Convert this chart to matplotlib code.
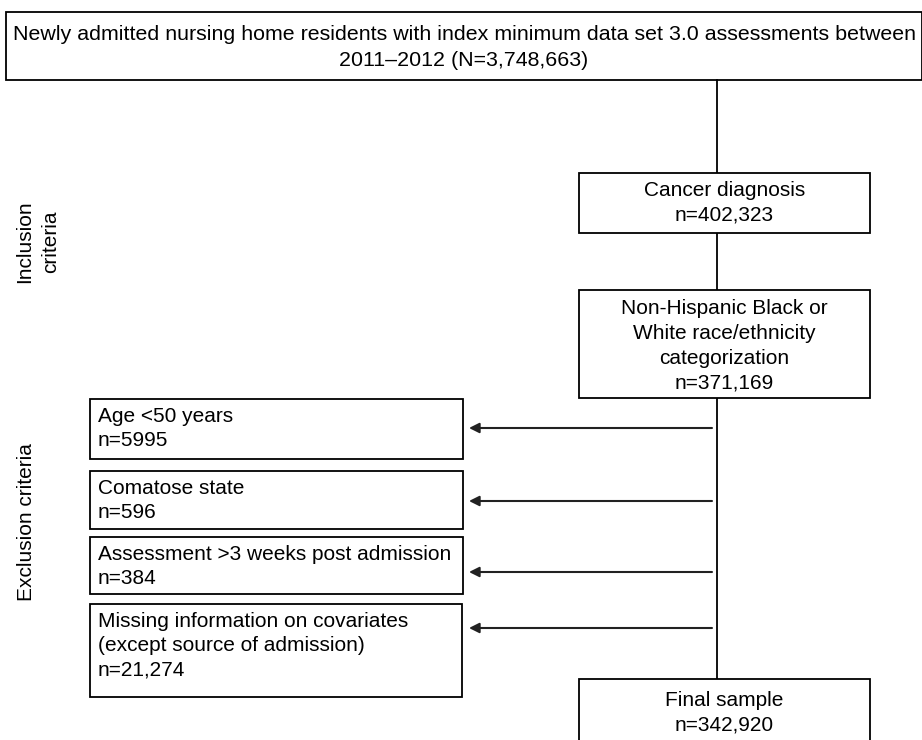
import matplotlib
matplotlib.use("Agg")
import matplotlib.pyplot as plt
from matplotlib.patches import Rectangle
from matplotlib.font_manager import FontProperties, findfont

# data
top_lines = ["Newly admitted nursing home residents with index minimum data set 3.0 assessments between",
             "2011\u20132012 (N=3,748,663)"]
main_steps = ["Cancer diagnosis", "Non-Hispanic Black or\nWhite race/ethnicity\ncategorization", "Final sample"]
main_counts = ["402,323", "371,169", "342,920"]
excl_labels = ["Age <50 years", "Comatose state", "Assessment >3 weeks post admission",
               "Missing information on covariates\n(except source of admission)"]
excl_counts = ["5995", "596", "384", "21,274"]
side_labels = ["Inclusion\ncriteria", "Exclusion criteria"]

# layout (pixel coords, y down)
main_boxes = [(579, 173, 291, 60), (579, 290, 291, 108), (579, 679, 291, 80)]
main_text_y = [203, 346, 713]
excl_boxes = [(90, 399, 373, 60), (90, 471, 373, 58), (90, 537, 373, 57), (90, 604, 372, 93)]
arrow_y = [428, 501, 572, 628]
line_x = 717

# narrow font for the top box if there is one
try:
    narrow = FontProperties(fname=findfont(FontProperties(family="Liberation Sans Narrow"),
                                           fallback_to_default=False))
except Exception:
    narrow = FontProperties(family="Liberation Sans")

fig = plt.figure(figsize=(9.22, 7.40), dpi=100)
ax = fig.add_axes([0, 0, 1, 1])
ax.set_xlim(0, 922)
ax.set_ylim(740, 0)
ax.axis("off")

lw = 1.3

def box(x, y, w, h):
    ax.add_patch(Rectangle((x, y), w, h, fill=False, edgecolor="black", linewidth=lw, zorder=2))

# top box
box(6, 12, 916, 68)
t1 = ax.text(464, 35, top_lines[0], ha="center", va="center", fontproperties=narrow, fontsize=15)
t2 = ax.text(464, 61, top_lines[1], ha="center", va="center", fontproperties=narrow, fontsize=15)
# shrink/grow to fit the width of the first line
fig.canvas.draw()
w = t1.get_window_extent().width
fs = min(15 * 907 / w, 17)
t1.set_fontsize(fs)
t2.set_fontsize(fs)

# vertical spine
ax.plot([line_x, line_x], [80, 679], color="black", linewidth=lw, zorder=1)

for (x, y, w, h), step, n, ty in zip(main_boxes, main_steps, main_counts, main_text_y):
    ax.add_patch(Rectangle((x, y), w, h, facecolor="white", edgecolor="black", linewidth=lw, zorder=2))
    ax.text(x + w / 2, ty, step + "\nn=" + n, ha="center", va="center", fontsize=15,
            family="Liberation Sans", linespacing=1.38, zorder=3)

for (x, y, w, h), lab, n in zip(excl_boxes, excl_labels, excl_counts):
    box(x, y, w, h)
    ax.text(x + 8, y + 8, lab + "\nn=" + n, ha="left", va="top", fontsize=15,
            family="Liberation Sans", linespacing=1.36)

for ay in arrow_y:
    ax.annotate("", xy=(469, ay), xytext=(712, ay),
                arrowprops=dict(arrowstyle="-|>", color="#222222", lw=1.5,
                                mutation_scale=15, shrinkA=0, shrinkB=0))

ax.text(38, 242, side_labels[0], rotation=90, ha="center", va="center", fontsize=15,
        family="Liberation Sans", linespacing=1.45)
ax.text(26, 522, side_labels[1], rotation=90, ha="center", va="center", fontsize=15,
        family="Liberation Sans")

fig.savefig("out.png", dpi=100)
